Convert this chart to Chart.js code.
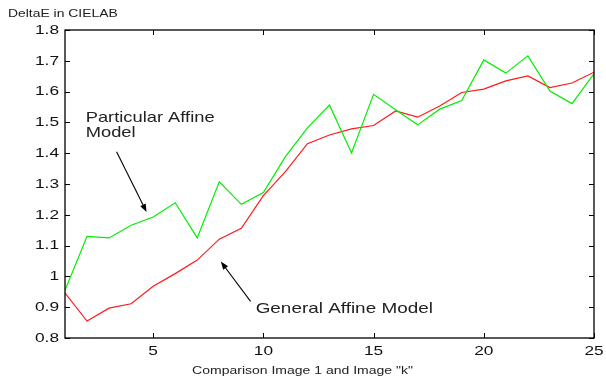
<!DOCTYPE html>
<html>
<head>
<meta charset="utf-8">
<script src="https://cdn.jsdelivr.net/npm/chart.js@4/dist/chart.umd.min.js"></script>
<style>
  html, body { margin: 0; padding: 0; background: #fff; }
  #wrap { width: 606px; height: 381px; }
</style>
</head>
<body>
<div id="wrap"><canvas id="c" width="606" height="381"></canvas></div>
<script>
// Comparison index k (image 1 compared against image k)
const imageIndex = [1, 2, 3, 4, 5, 6, 7, 8, 9, 10, 11, 12, 13, 14, 15, 16, 17, 18, 19, 20, 21, 22, 23, 24, 25];

// Mean colour difference (DeltaE in CIELAB) per comparison
const particularAffine = [0.955, 1.130, 1.125, 1.166, 1.193, 1.239, 1.125, 1.307, 1.234, 1.272,
                          1.389, 1.482, 1.556, 1.401, 1.591, 1.541, 1.492, 1.543, 1.571, 1.703,
                          1.660, 1.716, 1.602, 1.561, 1.658];
const generalAffine    = [0.946, 0.855, 0.897, 0.911, 0.968, 1.009, 1.053, 1.121, 1.156, 1.262,
                          1.340, 1.431, 1.459, 1.479, 1.490, 1.537, 1.517, 1.553, 1.597, 1.608,
                          1.635, 1.651, 1.613, 1.628, 1.663];

// Tick labels
const xTickValues = [5, 10, 15, 20, 25];
const yTickValues = [0.8, 0.9, 1.0, 1.1, 1.2, 1.3, 1.4, 1.5, 1.6, 1.7, 1.8];

const yAxisTitle = 'DeltaE in CIELAB';
const xAxisTitle = 'Comparison Image 1 and Image "k"';

// Callout labels with arrows, placed in data coordinates
const callouts = [
  { lines: ['Particular Affine', 'Model'], x: 1.94, y: [1.501, 1.451], stretch: 1.22,
    arrowFrom: [3.34, 1.405], arrowTo: [4.70, 1.209] },
  { lines: ['General Affine Model'], x: 9.65, y: [0.881], stretch: 1.26,
    arrowFrom: [9.42, 0.919], arrowTo: [8.07, 1.048] }
];

const FONT = '"Liberation Sans", Arial, Helvetica, sans-serif';

// Draw text squeezed/stretched horizontally around its anchor
function drawText(ctx, text, x, y, size, sx, align, baseline, color) {
  ctx.save();
  ctx.font = size + 'px ' + FONT;
  ctx.fillStyle = color;
  ctx.textAlign = align;
  ctx.textBaseline = baseline;
  ctx.translate(x, y);
  ctx.scale(sx, 1);
  ctx.fillText(text, 0, 0);
  ctx.restore();
}

const framePlugin = {
  id: 'matlabFrame',
  afterDatasetsDraw(chart) {
    const ctx = chart.ctx;
    const area = chart.chartArea;
    const xs = chart.scales.x, ys = chart.scales.y;
    const tickLen = 5;

    ctx.save();
    // axes box
    ctx.strokeStyle = '#000';
    ctx.lineWidth = 1.3;
    ctx.strokeRect(area.left, area.top, area.right - area.left, area.bottom - area.top);

    // inward tick marks on all four sides
    ctx.lineWidth = 1;
    ctx.beginPath();
    xs.ticks.forEach(t => {
      const px = Math.round(xs.getPixelForValue(t.value)) + 0.5;
      ctx.moveTo(px, area.bottom); ctx.lineTo(px, area.bottom - tickLen);
      ctx.moveTo(px, area.top);    ctx.lineTo(px, area.top + tickLen);
    });
    ys.ticks.forEach(t => {
      const py = Math.round(ys.getPixelForValue(t.value)) + 0.5;
      ctx.moveTo(area.left, py);  ctx.lineTo(area.left + tickLen, py);
      ctx.moveTo(area.right, py); ctx.lineTo(area.right - tickLen, py);
    });
    ctx.stroke();
    ctx.restore();

    // tick labels
    xs.ticks.forEach(t => {
      drawText(ctx, String(t.value), xs.getPixelForValue(t.value), area.bottom + 13,
               13.5, 1.28, 'center', 'middle', '#111');
    });
    ys.ticks.forEach(t => {
      drawText(ctx, String(parseFloat(t.value.toFixed(1))), area.left - 6, ys.getPixelForValue(t.value),
               13.5, 1.28, 'right', 'middle', '#111');
    });

    // axis titles
    drawText(ctx, yAxisTitle, 8, 14, 10.3, 1.35, 'left', 'middle', '#222');
    drawText(ctx, xAxisTitle, (area.left + area.right) / 2 - 27, 374, 10, 1.40, 'center', 'alphabetic', '#222');

    // callouts
    callouts.forEach(c => {
      const tx = xs.getPixelForValue(c.x);
      c.lines.forEach((line, i) => {
        drawText(ctx, line, tx, ys.getPixelForValue(c.y[i]), 15, c.stretch, 'left', 'alphabetic', '#222');
      });
      const x0 = xs.getPixelForValue(c.arrowFrom[0]), y0 = ys.getPixelForValue(c.arrowFrom[1]);
      const x1 = xs.getPixelForValue(c.arrowTo[0]),   y1 = ys.getPixelForValue(c.arrowTo[1]);
      const ang = Math.atan2(y1 - y0, x1 - x0);
      const headLen = 8, headHalf = 3;
      ctx.save();
      ctx.strokeStyle = '#000';
      ctx.fillStyle = '#000';
      ctx.lineWidth = 1.1;
      ctx.beginPath();
      ctx.moveTo(x0, y0);
      ctx.lineTo(x1 - Math.cos(ang) * headLen * 0.8, y1 - Math.sin(ang) * headLen * 0.8);
      ctx.stroke();
      ctx.beginPath();
      ctx.moveTo(x1, y1);
      ctx.lineTo(x1 - Math.cos(ang) * headLen + Math.sin(ang) * headHalf,
                 y1 - Math.sin(ang) * headLen - Math.cos(ang) * headHalf);
      ctx.lineTo(x1 - Math.cos(ang) * headLen - Math.sin(ang) * headHalf,
                 y1 - Math.sin(ang) * headLen + Math.cos(ang) * headHalf);
      ctx.closePath();
      ctx.fill();
      ctx.restore();
    });
  }
};

new Chart(document.getElementById('c'), {
  type: 'line',
  data: {
    datasets: [
      {
        label: 'Particular Affine Model',
        data: imageIndex.map((k, i) => ({ x: k, y: particularAffine[i] })),
        borderColor: '#00ee00',
        borderWidth: 1.2,
        pointRadius: 0,
        tension: 0,
        fill: false
      },
      {
        label: 'General Affine Model',
        data: imageIndex.map((k, i) => ({ x: k, y: generalAffine[i] })),
        borderColor: '#ff1a1a',
        borderWidth: 1.2,
        pointRadius: 0,
        tension: 0,
        fill: false
      }
    ]
  },
  options: {
    responsive: false,
    animation: false,
    devicePixelRatio: 1,
    layout: { autoPadding: false, padding: { left: 65, right: 12, top: 30, bottom: 43 } },
    plugins: { legend: { display: false }, tooltip: { enabled: false } },
    scales: {
      x: {
        type: 'linear', min: 1, max: 25,
        afterBuildTicks: s => { s.ticks = xTickValues.map(v => ({ value: v })); },
        ticks: { display: false },
        grid: { display: false, drawTicks: false },
        border: { display: false }
      },
      y: {
        type: 'linear', min: 0.8, max: 1.8,
        afterBuildTicks: s => { s.ticks = yTickValues.map(v => ({ value: v })); },
        ticks: { display: false },
        grid: { display: false, drawTicks: false },
        border: { display: false }
      }
    }
  },
  plugins: [framePlugin]
});
</script>
</body>
</html>
